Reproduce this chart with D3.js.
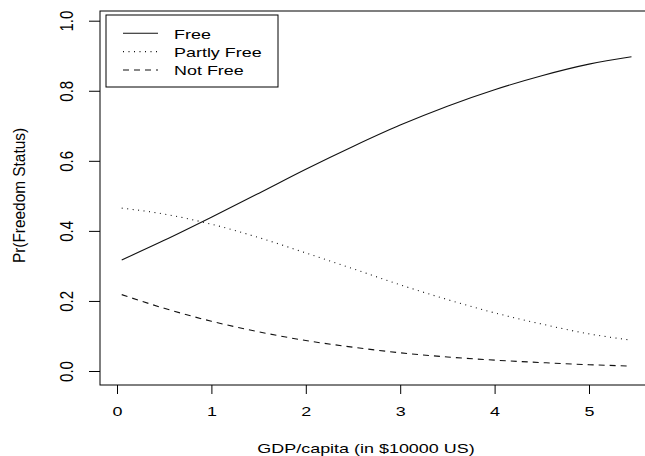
<!DOCTYPE html>
<html><head><meta charset="utf-8">
<script src="https://cdn.jsdelivr.net/npm/d3@7"></script>
<style>body{margin:0;background:#fff}svg{display:block}text{font-family:"Liberation Sans",Arial,sans-serif}</style>
</head><body>
<script>
const gdp = [0.05, 0.5, 1, 1.5, 2, 2.5, 3, 3.5, 4, 4.5, 5, 5.45];
const free = [0.317, 0.373, 0.439, 0.507, 0.576, 0.641, 0.702, 0.756, 0.803, 0.843, 0.876, 0.897];
const partlyFree = [0.465, 0.448, 0.419, 0.381, 0.337, 0.292, 0.246, 0.204, 0.166, 0.134, 0.106, 0.088];
const notFree = [0.218, 0.179, 0.142, 0.112, 0.087, 0.068, 0.052, 0.040, 0.031, 0.024, 0.018, 0.014];
const xTicks = [0, 1, 2, 3, 4, 5];
const yTicks = [0.0, 0.2, 0.4, 0.6, 0.8, 1.0];
const seriesNames = ["Free", "Partly Free", "Not Free"];
const dashes = [null, "1,4.5", "6,5"];

const W = 645, H = 456;
const SX = 1.38; // horizontal stretch of the reference text
const svg = d3.select("body").append("svg").attr("width", W).attr("height", H);
const x = d3.scaleLinear().domain([0, 5]).range([117, 589]);
const y = d3.scaleLinear().domain([0, 1]).range([371, 20.7]);
const box = {l: 100, t: 11, r: 652, b: 385};

svg.append("rect").attr("x", box.l).attr("y", box.t).attr("width", box.r - box.l).attr("height", box.b - box.t)
  .attr("fill", "none").attr("stroke", "#000").attr("stroke-width", 1);

// x axis
const xa = svg.append("g").attr("transform", `translate(0,${box.b})`)
  .call(d3.axisBottom(x).tickValues(xTicks).tickFormat(d3.format("d")).tickSize(9).tickSizeOuter(0));
xa.select(".domain").remove();
xa.selectAll("line").attr("stroke", "#000");
xa.selectAll("text").attr("font-size", 13).attr("fill", "#000").attr("font-family", "Liberation Sans, Arial, sans-serif")
  .attr("y", 30.7).attr("dy", 0).attr("transform", `scale(${SX},1)`);

// y axis
const ya = svg.append("g").attr("transform", `translate(${box.l},0)`)
  .call(d3.axisLeft(y).tickValues(yTicks).tickFormat(d3.format(".1f")).tickSize(11).tickSizeOuter(0));
ya.select(".domain").remove();
ya.selectAll("line").attr("stroke", "#000");
ya.selectAll("text").attr("font-size", 15).attr("fill", "#000").attr("font-family", "Liberation Sans, Arial, sans-serif")
  .attr("x", 0).attr("y", 0).attr("dy", 0).attr("text-anchor", "middle")
  .attr("transform", "translate(-27.3,0) scale(1.25,1) rotate(-90)");

// titles
svg.append("text").attr("transform", `translate(366,452.5) scale(${SX},1)`).attr("text-anchor", "middle").attr("font-size", 13).text("GDP/capita (in $10000 US)");
svg.append("text").attr("transform", "translate(24.8,195.5) scale(1.04,1) rotate(-90)").attr("text-anchor", "middle").attr("font-size", 15.4).text("Pr(Freedom Status)");

const line = d3.line().x((d, i) => x(gdp[i])).y(d => y(d)).curve(d3.curveMonotoneX);
[free, partlyFree, notFree].forEach((s, k) => {
  const p = svg.append("path").attr("d", line(s)).attr("fill", "none").attr("stroke", "#111").attr("stroke-width", 1.1);
  if (dashes[k]) p.attr("stroke-dasharray", dashes[k]);
});

// legend
const lg = svg.append("g");
lg.append("rect").attr("x", 106).attr("y", 15).attr("width", 172).attr("height", 72).attr("fill", "#fff").attr("stroke", "#000");
seriesNames.forEach((n, k) => {
  const yy = 33.3 + k * 18.35;
  const l = lg.append("line").attr("x1", 123).attr("x2", 158).attr("y1", yy).attr("y2", yy).attr("stroke", "#111").attr("stroke-width", 1.1);
  if (dashes[k]) l.attr("stroke-dasharray", dashes[k]);
  lg.append("text").attr("transform", `translate(174,${yy + 5.4}) scale(${SX},1)`).attr("font-size", 13).text(n);
});
</script>
</body></html>
